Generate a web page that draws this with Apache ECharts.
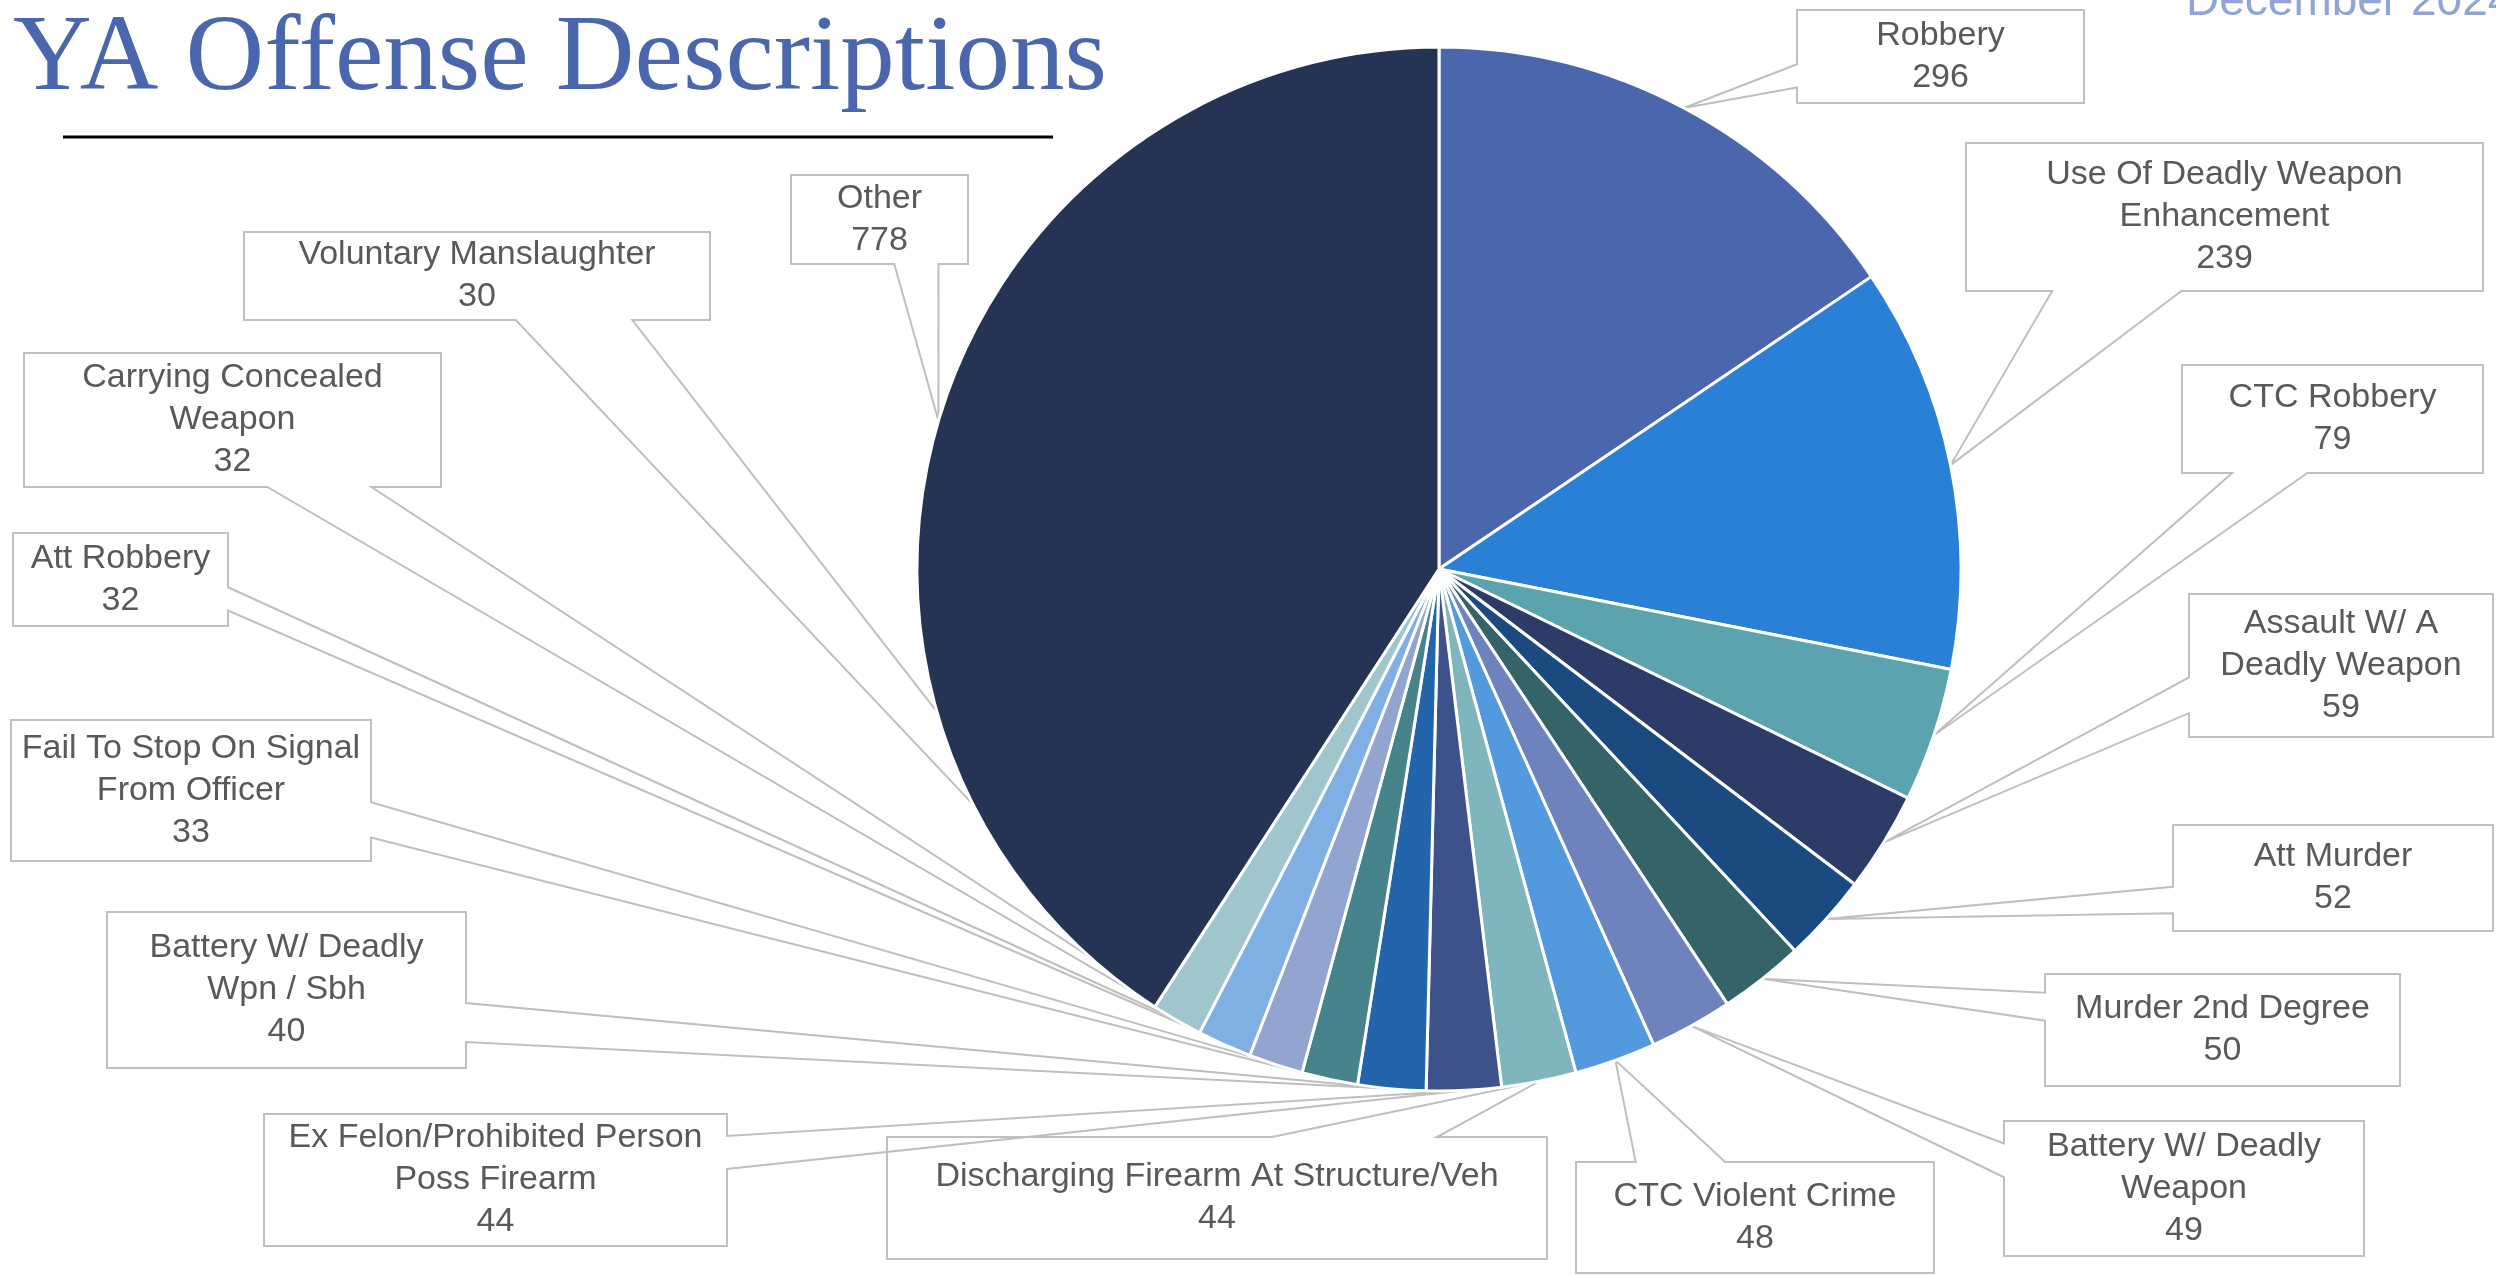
<!DOCTYPE html>
<html><head><meta charset="utf-8">
<script src="https://cdn.jsdelivr.net/npm/echarts@6/dist/echarts.min.js"></script>
<style>html,body{margin:0;padding:0;background:#fff}#c{width:2496px;height:1275px}</style>
</head><body><div id="c"></div>
<script>
// ---- data ----
const categories = ['Robbery','Use Of Deadly Weapon Enhancement','CTC Robbery','Assault W/ A Deadly Weapon','Att Murder','Murder 2nd Degree','Battery W/ Deadly Weapon','CTC Violent Crime','Discharging Firearm At Structure/Veh','Ex Felon/Prohibited Person Poss Firearm','Battery W/ Deadly Wpn / Sbh','Fail To Stop On Signal From Officer','Att Robbery','Carrying Concealed Weapon','Voluntary Manslaughter','Other'];
const counts = [296,239,79,59,52,50,49,48,44,44,40,33,32,32,30,778];
// label text as wrapped in the callouts
const labelText = ['Robbery','Use Of Deadly Weapon\nEnhancement','CTC Robbery','Assault W/ A\nDeadly Weapon','Att Murder','Murder 2nd Degree','Battery W/ Deadly\nWeapon','CTC Violent Crime','Discharging Firearm At Structure/Veh','Ex Felon/Prohibited Person\nPoss Firearm','Battery W/ Deadly\nWpn / Sbh','Fail To Stop On Signal\nFrom Officer','Att Robbery','Carrying Concealed\nWeapon','Voluntary Manslaughter','Other'];
const titleText = 'YA Offense Descriptions';
const subtitleText = 'December 2024';

// ---- styles / layout ----
const sliceColors = ['#4A66AC','#2A7FD6','#5BA3AE','#2D3B68','#1B4A80','#34636A','#6E82BE','#5399DE','#7FB6BD','#3D518B','#2265AA','#46838B','#92A4D0','#7FAFE3','#9EC6CC','#253355'];
// callout boxes: [left, top, right, bottom]
const labelBoxes = [
  [1797,10,2084,103],
  [1966,143,2483,291],
  [2182,365,2483,473],
  [2189,594,2493,737],
  [2173,825,2493,931],
  [2045,974,2400,1086],
  [2004,1121,2364,1256],
  [1576,1162,1934,1273],
  [887,1137,1547,1259],
  [264,1114,727,1246],
  [107,912,466,1068],
  [11,720,371,861],
  [13,533,228,626],
  [24,353,441,487],
  [244,232,710,320],
  [791,175,968,264]
];

function callout(box, tip) {
  const l = box[0], t = box[1], r = box[2], b = box[3];
  const w = r - l, h = b - t;
  const dx = tip[0] - (l + w / 2), dy = tip[1] - (t + h / 2);
  const dz = Math.abs(dy) - Math.abs(dx * h / w);
  const x1 = l + w * (dx > 0 ? 7 : 2) / 12, x2 = l + w * (dx > 0 ? 10 : 5) / 12;
  const y1 = t + h * (dy > 0 ? 7 : 2) / 12, y2 = t + h * (dy > 0 ? 10 : 5) / 12;
  const side = dz > 0 ? (dy < 0 ? 'top' : 'bottom') : (dx > 0 ? 'right' : 'left');
  const p = [[l, t]];
  if (side === 'top') p.push([x1, t], tip, [x2, t]);
  p.push([r, t]);
  if (side === 'right') p.push([r, y1], tip, [r, y2]);
  p.push([r, b]);
  if (side === 'bottom') p.push([x2, b], tip, [x1, b]);
  p.push([l, b]);
  if (side === 'left') p.push([l, y2], tip, [l, y1]);
  p.push([l, t], p[1]);
  return p;
}

const chart = echarts.init(document.getElementById('c'), null, {renderer: 'canvas'});
const option = {
  animation: false,
  backgroundColor: '#ffffff',
  title: {
    text: titleText, left: 8, top: 1,
    textStyle: {fontFamily: 'Liberation Serif', fontSize: 109, fontWeight: 'normal', color: '#4A66AC'}
  },
  graphic: [
    {type: 'line', shape: {x1: 63, y1: 137, x2: 1053, y2: 137}, style: {stroke: '#000000', lineWidth: 3}},
    {type: 'text', x: 2186, y: 2, style: {text: subtitleText, font: '46px "Liberation Sans"', fill: '#8EA5D6', verticalAlign: 'middle'}}
  ],
  series: [{
    type: 'pie',
    center: [1439, 569],
    radius: 522,
    startAngle: 90,
    clockwise: true,
    avoidLabelOverlap: false,
    emphasis: {disabled: true},
    itemStyle: {borderColor: '#ffffff', borderWidth: 3},
    label: {
      show: true, position: 'outside', alignTo: 'none', overflow: 'none',
      formatter: function (p) { return labelText[p.dataIndex] + '\n' + p.value; },
      color: '#595959', fontFamily: 'Liberation Sans', fontSize: 34, lineHeight: 42, padding: 0
    },
    labelLine: {show: true, length: 5, length2: 5, lineStyle: {color: '#BFBFBF', width: 2}},
    labelLayout: function (params) {
      const box = labelBoxes[params.dataIndex];
      const res = {
        x: (box[0] + box[2]) / 2, y: (box[1] + box[3]) / 2,
        align: 'center', verticalAlign: 'middle',
        width: box[2] - box[0], height: box[3] - box[1]
      };
      if (params.labelLinePoints && params.labelLinePoints[0]) {
        res.labelLinePoints = callout(box, params.labelLinePoints[0]);
      }
      return res;
    },
    data: categories.map(function (n, i) {
      return {name: n, value: counts[i], itemStyle: {color: sliceColors[i]}};
    })
  }]
};
chart.setOption(option);
</script>
</body></html>
